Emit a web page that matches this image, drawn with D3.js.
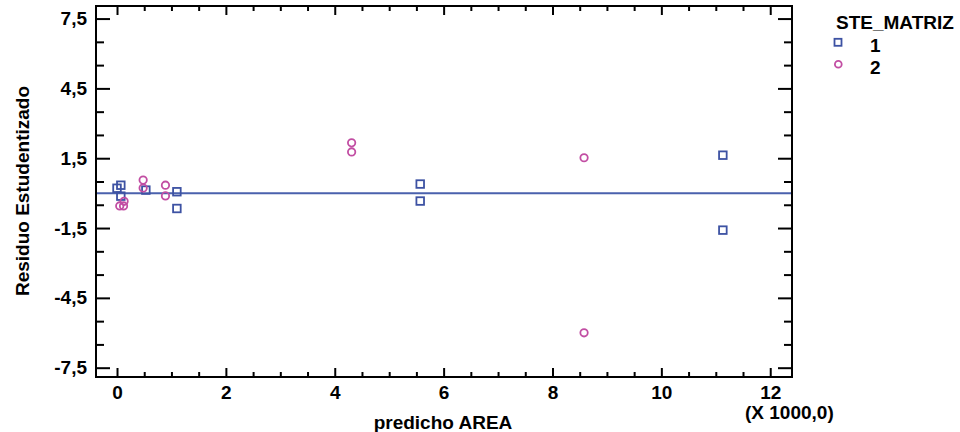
<!DOCTYPE html>
<html>
<head>
<meta charset="utf-8">
<script src="https://cdn.jsdelivr.net/npm/d3@7"></script>
<style>
  html, body { margin: 0; padding: 0; background: #fff; }
  svg text { font-family: "Liberation Sans", Arial, Helvetica, sans-serif; font-weight: bold; fill: #000; }
</style>
</head>
<body>
<svg id="chart" width="960" height="432"></svg>
<script>
// Residuals by predicted value, grouped by STE_MATRIZ
const groupNames = ["1", "2"];

// group 1 (squares): predicted AREA (thousands) and studentized residual
const predicted1 = [0.00, 0.07, 0.07, 0.53, 1.10, 1.10, 5.57, 5.57, 11.13, 11.13];
const residual1  = [0.21, 0.34, -0.13, 0.13, 0.06, -0.66, 0.39, -0.34, 1.63, -1.59];

// group 2 (circles)
const predicted2 = [0.05, 0.12, 0.13, 0.48, 0.48, 0.89, 0.89, 4.31, 4.31, 8.58, 8.58];
const residual2  = [-0.55, -0.55, -0.35, 0.56, 0.22, 0.34, -0.12, 2.16, 1.77, 1.52, -6.00];

const xMajorTicks = [0, 2, 4, 6, 8, 10, 12];
const xMinorTicks = d3.range(0, 12.01, 0.5).filter(v => !xMajorTicks.includes(v));
const yMajorTicks = [-7.5, -4.5, -1.5, 1.5, 4.5, 7.5];
const yMinorTicks = [-6.5, -5.5, -3.5, -2.5, -0.5, 0.5, 2.5, 3.5, 5.5, 6.5];

const xTitle = "predicho AREA";
const xUnit = "(X 1000,0)";
const yTitle = "Residuo Estudentizado";
const legendTitle = "STE_MATRIZ";

const blue = "#3d52a3";
const pink = "#c24ea3";
const lineBlue = "#4a61ad";

const plot = { left: 96, right: 792, top: 6, bottom: 377 };
const svg = d3.select("#chart");

const x = d3.scaleLinear().domain([-0.386, 12.4]).range([plot.left, plot.right]);
const y = d3.scaleLinear().domain([-7.9, 8.04]).range([plot.bottom, plot.top]);

const fmt = d => d.toFixed(1).replace(".", ",");

function ticksOnly(axis, vals, size) {
  return axis.tickValues(vals).tickSize(size).tickFormat("");
}
function strip(g) {
  g.select(".domain").remove();
  g.selectAll(".tick line").attr("stroke", "#000").attr("stroke-width", 2);
}

// tick marks on all four sides, pointing inward
svg.append("g").attr("transform", `translate(${plot.left},0)`).call(ticksOnly(d3.axisRight(y), yMajorTicks, 14)).call(strip);
svg.append("g").attr("transform", `translate(${plot.left},0)`).call(ticksOnly(d3.axisRight(y), yMinorTicks, 8)).call(strip);
svg.append("g").attr("transform", `translate(${plot.right},0)`).call(ticksOnly(d3.axisLeft(y), yMajorTicks, 14)).call(strip);
svg.append("g").attr("transform", `translate(${plot.right},0)`).call(ticksOnly(d3.axisLeft(y), yMinorTicks, 8)).call(strip);
svg.append("g").attr("transform", `translate(0,${plot.bottom})`).call(ticksOnly(d3.axisTop(x), xMajorTicks, 9)).call(strip);
svg.append("g").attr("transform", `translate(0,${plot.bottom})`).call(ticksOnly(d3.axisTop(x), xMinorTicks, 5)).call(strip);
svg.append("g").attr("transform", `translate(0,${plot.top})`).call(ticksOnly(d3.axisBottom(x), xMajorTicks, 9)).call(strip);
svg.append("g").attr("transform", `translate(0,${plot.top})`).call(ticksOnly(d3.axisBottom(x), xMinorTicks, 5)).call(strip);

// tick labels
const yLab = svg.append("g").attr("transform", `translate(${plot.left},0)`)
  .call(d3.axisLeft(y).tickValues(yMajorTicks).tickSize(0).tickPadding(9).tickFormat(fmt));
yLab.select(".domain").remove();
yLab.selectAll("text").attr("font-size", 19).attr("fill", "#000");

const xLab = svg.append("g").attr("transform", `translate(0,${plot.bottom})`)
  .call(d3.axisBottom(x).tickValues(xMajorTicks).tickSize(0).tickPadding(9).tickFormat(d3.format("d")));
xLab.select(".domain").remove();
xLab.selectAll("text").attr("font-size", 19).attr("fill", "#000");

// frame
svg.append("rect")
  .attr("x", plot.left).attr("y", plot.top)
  .attr("width", plot.right - plot.left).attr("height", plot.bottom - plot.top)
  .attr("fill", "none").attr("stroke", "#000").attr("stroke-width", 2);

// zero reference line
svg.append("line")
  .attr("x1", plot.left + 1).attr("x2", plot.right - 1)
  .attr("y1", y(0)).attr("y2", y(0))
  .attr("stroke", lineBlue).attr("stroke-width", 2);

// points
const g1 = predicted1.map((p, i) => ({ x: p, y: residual1[i] }));
const g2 = predicted2.map((p, i) => ({ x: p, y: residual2[i] }));

svg.append("g").selectAll("rect").data(g1).join("rect")
  .attr("x", d => x(d.x) - 3.8).attr("y", d => y(d.y) - 3.8)
  .attr("width", 7.6).attr("height", 7.6)
  .attr("fill", "none").attr("stroke", blue).attr("stroke-width", 1.8);

svg.append("g").selectAll("circle").data(g2).join("circle")
  .attr("cx", d => x(d.x)).attr("cy", d => y(d.y)).attr("r", 3.7)
  .attr("fill", "none").attr("stroke", pink).attr("stroke-width", 1.8);

// axis titles
svg.append("text").attr("x", 443).attr("y", 429).attr("text-anchor", "middle")
  .attr("font-size", 19).text(xTitle);
svg.append("text").attr("x", 745).attr("y", 419).attr("text-anchor", "start")
  .attr("font-size", 19).text(xUnit);
svg.append("text").attr("transform", "translate(29,191) rotate(-90)").attr("text-anchor", "middle")
  .attr("font-size", 19).text(yTitle);

// legend
const legend = svg.append("g");
legend.append("text").attr("x", 836).attr("y", 29).attr("font-size", 19).text(legendTitle);
legend.append("rect").attr("x", 834.5).attr("y", 38.8).attr("width", 7).attr("height", 7)
  .attr("fill", "none").attr("stroke", blue).attr("stroke-width", 1.8);
legend.append("circle").attr("cx", 838.3).attr("cy", 64.3).attr("r", 3.4)
  .attr("fill", "none").attr("stroke", pink).attr("stroke-width", 1.8);
legend.selectAll(".lbl").data(groupNames).join("text").attr("class", "lbl")
  .attr("x", 870).attr("y", (d, i) => 51.5 + i * 22.5).attr("font-size", 19).text(d => d);
</script>
</body>
</html>
